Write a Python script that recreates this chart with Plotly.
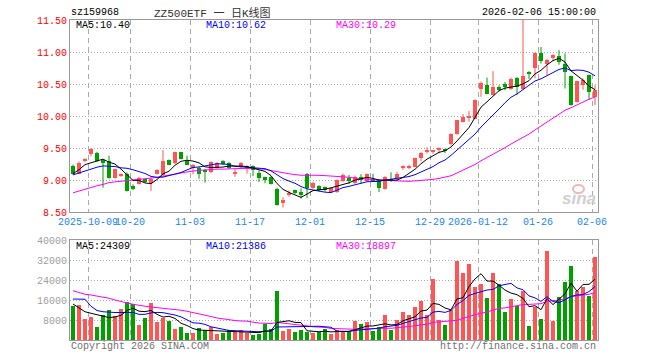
import plotly.graph_objects as go

# ---------------- data ----------------
dates = [
    "2025-09-26", "2025-09-29", "2025-09-30",
    "2025-10-09", "2025-10-10", "2025-10-13", "2025-10-14", "2025-10-15", "2025-10-16", "2025-10-17",
    "2025-10-20", "2025-10-21", "2025-10-22", "2025-10-23", "2025-10-24", "2025-10-27", "2025-10-28",
    "2025-10-29", "2025-10-30", "2025-10-31",
    "2025-11-03", "2025-11-04", "2025-11-05", "2025-11-06", "2025-11-07", "2025-11-10", "2025-11-11",
    "2025-11-12", "2025-11-13", "2025-11-14", "2025-11-17", "2025-11-18", "2025-11-19", "2025-11-20",
    "2025-11-21", "2025-11-24", "2025-11-25", "2025-11-26", "2025-11-27", "2025-11-28",
    "2025-12-01", "2025-12-02", "2025-12-03", "2025-12-04", "2025-12-05", "2025-12-08", "2025-12-09",
    "2025-12-10", "2025-12-11", "2025-12-12", "2025-12-15", "2025-12-16", "2025-12-17", "2025-12-18",
    "2025-12-19", "2025-12-22", "2025-12-23", "2025-12-24", "2025-12-25", "2025-12-26", "2025-12-29",
    "2025-12-30", "2025-12-31",
    "2026-01-05", "2026-01-06", "2026-01-07", "2026-01-08", "2026-01-09", "2026-01-12", "2026-01-13",
    "2026-01-14", "2026-01-15", "2026-01-16", "2026-01-19", "2026-01-20", "2026-01-21", "2026-01-22",
    "2026-01-23", "2026-01-26", "2026-01-27", "2026-01-28", "2026-01-29", "2026-01-30",
    "2026-02-02", "2026-02-03", "2026-02-04", "2026-02-05", "2026-02-06",
]

opens = [9.22, 9.10, 9.30, 9.41, 9.42, 9.31, 9.30, 9.03, 9.07, 9.09,
         8.91, 8.94, 9.01, 8.95, 9.10, 9.08, 9.31, 9.26, 9.43, 9.32,
         9.19, 9.19, 9.16, 9.12, 9.19, 9.30, 9.27, 9.10, 9.20, 9.17,
         9.22, 9.11, 9.04, 9.05, 8.86, 8.64, 8.77, 8.84, 8.81, 9.10,
         8.87, 8.91, 8.89, 8.82, 8.81, 8.99, 9.03, 8.95, 9.05, 8.98,
         9.01, 9.00, 8.86, 9.02, 9.03, 9.19, 9.20, 9.21, 9.34, 9.45,
         9.45, 9.47, 9.48, 9.56, 9.72, 9.91, 9.98, 9.96, 10.42, 10.48,
         10.33, 10.46, 10.50, 10.42, 10.60, 10.42, 10.69, 10.75, 10.98, 10.81,
         10.90, 10.93, 10.82, 10.62, 10.22, 10.48, 10.64, 10.29]
highs = [9.24, 9.29, 9.34, 9.50, 9.44, 9.32, 9.38, 9.18, 9.10, 9.12,
         8.93, 9.05, 9.02, 9.04, 9.17, 9.47, 9.32, 9.44, 9.44, 9.38,
         9.25, 9.21, 9.17, 9.29, 9.28, 9.31, 9.28, 9.18, 9.28, 9.23,
         9.23, 9.15, 9.05, 9.06, 8.88, 8.73, 8.84, 8.85, 8.87, 9.11,
         8.97, 8.92, 8.90, 8.88, 9.01, 9.10, 9.08, 9.07, 9.09, 9.10,
         9.10, 9.01, 9.06, 9.12, 9.13, 9.23, 9.24, 9.35, 9.44, 9.51,
         9.47, 9.51, 9.49, 9.73, 9.94, 10.03, 10.08, 10.26, 10.54, 10.60,
         10.70, 10.48, 10.53, 10.60, 10.61, 11.50, 10.70, 10.99, 11.08, 10.89,
         10.97, 11.03, 10.98, 10.63, 10.55, 10.59, 10.65, 10.48]
lows = [9.08, 9.09, 9.28, 9.37, 9.28, 8.88, 9.02, 9.02, 9.05, 8.82,
        8.84, 8.93, 8.96, 8.83, 9.09, 9.06, 9.23, 9.25, 9.32, 9.23,
        9.09, 9.02, 8.96, 9.11, 9.18, 9.24, 9.17, 9.05, 9.19, 9.10,
        9.06, 8.97, 8.95, 8.93, 8.60, 8.57, 8.74, 8.78, 8.71, 8.72,
        8.86, 8.82, 8.82, 8.81, 8.80, 8.97, 8.94, 8.94, 8.94, 8.97,
        8.97, 8.81, 8.85, 8.97, 9.00, 9.16, 9.17, 9.20, 9.29, 9.41,
        9.41, 9.42, 9.42, 9.54, 9.71, 9.90, 9.91, 9.95, 10.30, 10.34,
        10.32, 10.38, 10.40, 10.41, 10.33, 10.41, 10.58, 10.59, 10.82, 10.64,
        10.86, 10.80, 10.43, 10.16, 10.21, 10.41, 10.25, 10.17]
closes = [9.09, 9.27, 9.31, 9.48, 9.29, 9.28, 9.03, 9.17, 9.08, 8.83,
          8.86, 9.03, 8.97, 9.02, 9.16, 9.30, 9.24, 9.43, 9.33, 9.24,
          9.24, 9.10, 9.12, 9.28, 9.26, 9.25, 9.18, 9.13, 9.27, 9.22,
          9.15, 9.03, 9.00, 8.94, 8.61, 8.69, 8.79, 8.79, 8.76, 8.87,
          8.96, 8.85, 8.84, 8.87, 9.00, 9.08, 8.99, 9.05, 9.00, 9.09,
          8.99, 8.87, 9.04, 8.99, 9.10, 9.20, 9.21, 9.34, 9.42, 9.46,
          9.46, 9.48, 9.46, 9.72, 9.93, 9.99, 10.00, 10.25, 10.52, 10.35,
          10.45, 10.41, 10.45, 10.58, 10.45, 10.62, 10.66, 10.98, 10.86, 10.875,
          10.95, 10.85, 10.68, 10.17, 10.54, 10.56, 10.38, 10.41]
volumes = [13700, 14000, 8400, 9200, 5200, 10000, 12000, 9700, 12400, 15100,
           14400, 6000, 8800, 14800, 7300, 8900, 7700, 4400, 5200, 2800,
           2800, 4700, 3900, 5200, 2500, 2800, 4000, 3300, 4000, 2800,
           2100, 2500, 6500, 4400, 19600, 3600, 4400, 3200, 4000, 3200,
           2900, 3200, 4400, 2500, 3900, 3300, 3300, 7600, 6400, 7200,
           3600, 5200, 10000, 4100, 8000, 11100, 10000, 13200, 15600, 10000,
           24400, 8000, 6000, 12000, 31700, 26900, 30400, 21200, 22400, 16900,
           26900, 22400, 11300, 16400, 13600, 19600, 5700, 13300, 8400, 35700,
           7700, 17300, 23200, 29700, 19600, 21300, 17600, 33300]

# moving-average values at the left edge (they depend on days before the window)
ma5_head = [9.10, 9.16, 9.24, 9.27]
ma10_head = [9.08, 9.11, 9.15, 9.17, 9.20, 9.22, 9.22, 9.21, 9.19]
ma30_head = [8.80, 8.83, 8.86, 8.88, 8.91, 8.93, 8.96, 8.97, 8.98, 8.98,
             8.99, 9.00, 9.01, 9.03, 9.04, 9.06, 9.07, 9.09, 9.11, 9.13,
             9.14, 9.15, 9.16, 9.16, 9.17, 9.17, 9.17, 9.18, 9.18]
vma5_head = [14400, 12700, 11300, 10700]
vma10_head = [16400, 16400, 16300, 13500, 11800, 11300, 11000, 11000, 11000]
vma30_head = [19700, 19000, 18300, 18000, 17600, 17300, 16700, 16000, 15300, 14800,
              14300, 13800, 13500, 13200, 13000, 12800, 12500, 12100, 11900, 11500,
              11000, 10700, 10200, 9400, 8800, 8400, 8000, 7800, 7600]

tick_dates = ["2025-10-09", "2025-10-20", "2025-11-03", "2025-11-17", "2025-12-01",
              "2025-12-15", "2025-12-29", "2026-01-12", "2026-01-26", "2026-02-06"]
tick_labels = ["2025-10-09", "10-20", "11-03", "11-17", "12-01",
               "12-15", "12-29", "2026-01-12", "01-26", "02-06"]
price_ticks = [8.5, 9.0, 9.5, 10.0, 10.5, 11.0, 11.5]
vol_ticks = [8000, 16000, 24000, 32000, 40000]

# ---------------- helpers ----------------
def moving_average(values, n, head):
    out = list(head)
    for i in range(n - 1, len(values)):
        out.append(sum(values[i - n + 1:i + 1]) / n)
    return out

W, H = 660, 360
RED = "#FF5555"
GREEN = "#00A000"
MONO = "Liberation Mono, DejaVu Sans Mono, monospace"

def px(x):
    return x / W

def py(y):
    return 1 - y / H

idx = list(range(len(dates)))
up = [c >= o for o, c in zip(opens, closes)]
colors = [RED if u else GREEN for u in up]
body_low = [min(o, c) for o, c in zip(opens, closes)]
body_h = [max(abs(c - o), 0.016) for o, c in zip(opens, closes)]

ma5 = moving_average(closes, 5, ma5_head)
ma10 = moving_average(closes, 10, ma10_head)
ma30 = moving_average(closes, 30, ma30_head)
vma5 = moving_average(volumes, 5, vma5_head)
vma10 = moving_average(volumes, 10, vma10_head)
vma30 = moving_average(volumes, 30, vma30_head)

fig = go.Figure()

# wicks
for flag, col in ((True, RED), (False, GREEN)):
    wx, wy = [], []
    for i in idx:
        if up[i] == flag:
            wx += [i, i, None]
            wy += [lows[i], highs[i], None]
    fig.add_trace(go.Scatter(x=wx, y=wy, mode="lines", line=dict(color=col, width=1),
                             hoverinfo="skip", xaxis="x", yaxis="y"))

# candle bodies
fig.add_trace(go.Bar(x=idx, y=body_h, base=body_low, width=0.8,
                     marker=dict(color=colors, line=dict(width=0)),
                     xaxis="x", yaxis="y"))

# price MAs
for vals, col in ((ma30, "#FF00FF"), (ma10, "#0000FF"), (ma5, "#000000")):
    fig.add_trace(go.Scatter(x=idx, y=vals, mode="lines", line=dict(color=col, width=1),
                             xaxis="x", yaxis="y"))

# volume bars
fig.add_trace(go.Bar(x=idx, y=volumes, width=0.8,
                     marker=dict(color=colors, line=dict(width=0)),
                     xaxis="x2", yaxis="y2"))
for vals, col in ((vma30, "#FF00FF"), (vma10, "#0000FF"), (vma5, "#000000")):
    fig.add_trace(go.Scatter(x=idx, y=vals, mode="lines", line=dict(color=col, width=1),
                             xaxis="x2", yaxis="y2"))

tickvals = [dates.index(d) - 0.5 for d in tick_dates]
xdom = [px(70), px(598)]
xr = [-0.5, len(dates) - 0.5]
axis_common = dict(showline=True, mirror=True, linecolor="#999999", linewidth=1,
                   zeroline=False, ticks="", fixedrange=True, automargin=False)

fig.update_layout(
    width=W, height=H, margin=dict(l=0, r=0, t=0, b=0, pad=0),
    paper_bgcolor="white", plot_bgcolor="white",
    showlegend=False, barmode="overlay", bargap=0,
    xaxis=dict(domain=xdom, range=xr, anchor="y", tickmode="array",
               tickvals=tickvals, ticktext=tick_labels, tickangle=0,
               tickfont=dict(family=MONO, size=10, color="#1C86EE"),
               showgrid=True, gridcolor="#AAAAAA", griddash="5px,4px", gridwidth=1,
               **axis_common),
    yaxis=dict(domain=[py(212), py(20)], range=[8.5, 11.5], anchor="x",
               tickmode="array", tickvals=price_ticks,
               ticktext=["%.2f" % v for v in price_ticks],
               tickfont=dict(family=MONO, size=10, color="#FF0000"),
               showgrid=True, gridcolor="#AAAAAA", griddash="1px,2px", gridwidth=1,
               **axis_common),
    xaxis2=dict(domain=xdom, range=xr, anchor="y2", tickmode="array",
                tickvals=tickvals, showticklabels=False,
                showgrid=True, gridcolor="#AAAAAA", griddash="5px,4px", gridwidth=1,
                **axis_common),
    yaxis2=dict(domain=[py(340), py(240)], range=[0, 40000], anchor="x2",
                tickmode="array", tickvals=vol_ticks, ticktext=[str(v) for v in vol_ticks],
                tickfont=dict(family=MONO, size=10, color="#A0A0A0"),
                showgrid=True, gridcolor="#AAAAAA", griddash="1px,2px", gridwidth=1,
                **axis_common),
)

def note(text, x, y, color, anchor="left", size=10, family=MONO):
    fig.add_annotation(text=text, x=px(x), y=py(y), xref="paper", yref="paper",
                       xanchor=anchor, yanchor="middle", showarrow=False,
                       font=dict(family=family, size=size, color=color))

note("sz159968", 69, 13, "#000000")
note("ZZ500ETF 一 日K线图", 152, 13, "#333333", size=11,
     family="Liberation Mono, Noto Sans CJK SC")
note("2026-02-06 15:00:00", 598, 13, "#000000", anchor="right")
note("MA5:10.40", 74, 26, "#000000")
note("MA10:10.62", 204, 26, "#0000FF")
note("MA30:10.29", 334, 26, "#FF00FF")
note("MA5:24309", 74, 246, "#000000")
note("MA10:21386", 204, 246, "#0000FF")
note("MA30:18897", 334, 246, "#FF00FF")
note("Copyright 2026 SINA.COM", 69, 346, "#707070")
note("http://finance.sina.com.cn", 598, 346, "#707070", anchor="right")

# sina watermark
fig.add_annotation(text="<b><i>sina</i></b>", x=px(598), y=py(198), xref="paper", yref="paper",
                   xanchor="right", yanchor="middle", showarrow=False,
                   font=dict(family="Liberation Sans, Arial", size=17, color="#D0D0D0"))
fig.add_shape(type="circle", xref="paper", yref="paper",
              x0=px(573), x1=px(584), y0=py(193), y1=py(185),
              line=dict(color="#F0B8B8", width=2))

fig.write_html("out.html")
